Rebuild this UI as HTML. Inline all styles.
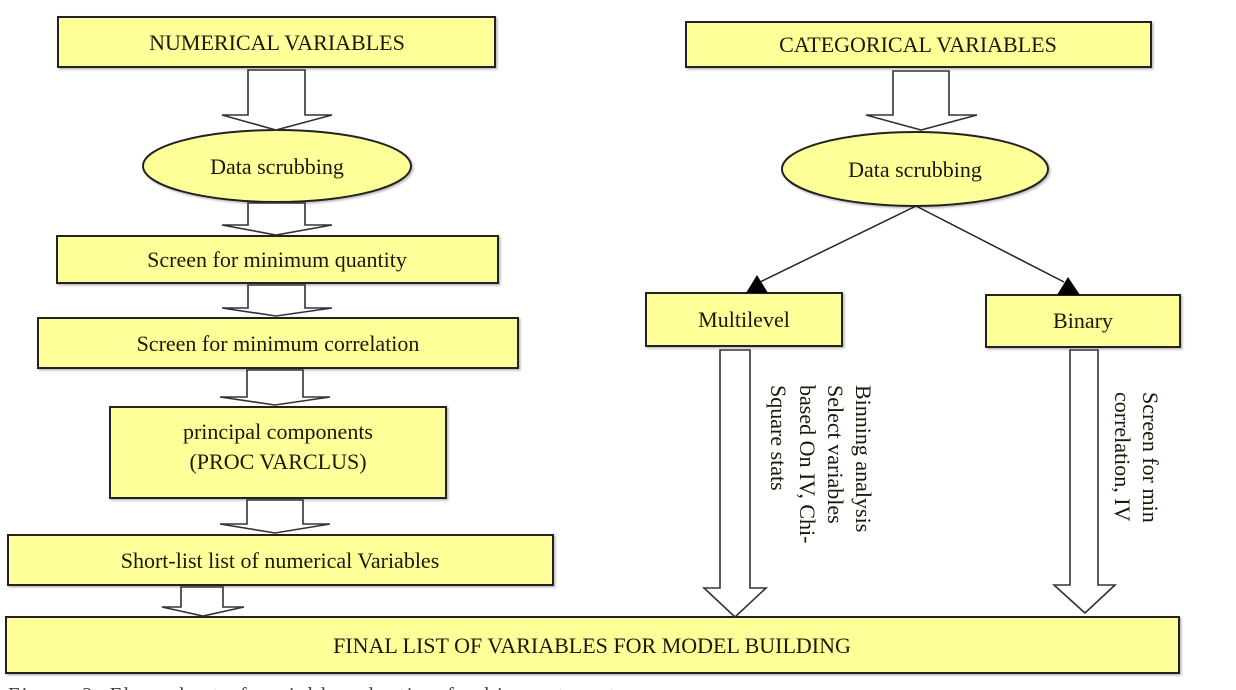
<!DOCTYPE html>
<html><head><meta charset="utf-8"><style>
html,body{margin:0;padding:0;background:#fff;overflow:hidden;}
svg{display:block;}
text{font-family:"Liberation Serif",serif;fill:#1a1a0a;}
</style></head><body>
<svg width="1236" height="690" viewBox="0 0 1236 690" xmlns="http://www.w3.org/2000/svg">
<defs>
<filter id="sh" x="-5%" y="-5%" width="110%" height="120%"><feDropShadow dx="1.5" dy="1.5" stdDeviation="1" flood-color="#888" flood-opacity="0.6"/></filter>
</defs>
<g fill="#ffff99" stroke="#222" stroke-width="2" filter="url(#sh)">
<rect x="58" y="17" width="437" height="50"/>
<ellipse cx="277" cy="166" rx="134" ry="36"/>
<rect x="57" y="236" width="441" height="47"/>
<rect x="38" y="318" width="480" height="50"/>
<rect x="110" y="407" width="336" height="91"/>
<rect x="8" y="535" width="545" height="50"/>
<rect x="6" y="617" width="1173" height="56"/>
<rect x="686" y="22" width="465" height="45"/>
<ellipse cx="915" cy="169" rx="133" ry="37"/>
<rect x="646" y="293" width="196" height="53"/>
<rect x="986" y="295" width="194" height="52"/>
</g>
<g fill="#fff" stroke="#333" stroke-width="1.6" stroke-linejoin="miter">
<polygon points="248,70 305,70 305,115 332,115 276,130 222,115 248,115"/>
<polygon points="248,203 305,203 305,225 332,225 276,235 222,225 248,225"/>
<polygon points="248,285 305,285 305,308 332,308 276,316 222,308 248,308"/>
<polygon points="247,370 303,370 303,397 330,397 275,405 220,397 247,397"/>
<polygon points="247,500 303,500 303,524 330,524 275,533 220,524 247,524"/>
<polygon points="181,587 223,587 223,607 244,607 203,616 162,607 181,607"/>
<polygon points="893,71 949,71 949,115 977,115 921,130 866,115 893,115"/>
<polygon points="720,350 750,350 750,588 766,588 735,617 704,588 720,588"/>
<polygon points="1070,350 1098,350 1098,585 1115,585 1085,613 1054,585 1070,585"/>
</g>
<g stroke="#222" stroke-width="1.5">
<line x1="916" y1="206" x2="760" y2="282"/>
<line x1="916" y1="206" x2="1064" y2="282"/>
</g>
<polygon points="757,275 746,293 768,293" fill="#000"/>
<polygon points="1068,277 1057,295 1080,295" fill="#000"/>
<g font-size="22" text-anchor="middle">
<text x="277" y="50">NUMERICAL VARIABLES</text>
<text x="277" y="174">Data scrubbing</text>
<text x="277" y="267">Screen for minimum quantity</text>
<text x="278" y="351">Screen for minimum correlation</text>
<text x="278" y="439">principal components</text>
<text x="278" y="469">(PROC VARCLUS)</text>
<text x="280" y="568">Short-list list of numerical Variables</text>
<text x="592" y="653">FINAL LIST OF VARIABLES FOR MODEL BUILDING</text>
<text x="918" y="52">CATEGORICAL VARIABLES</text>
<text x="915" y="177">Data scrubbing</text>
<text x="744" y="327">Multilevel</text>
<text x="1083" y="328">Binary</text>
</g>
<g font-size="22">
<text transform="translate(856,385) rotate(90)">Binning analysis</text>
<text transform="translate(828,385) rotate(90)">Select variables</text>
<text transform="translate(800,385) rotate(90)">based On IV, Chi-</text>
<text transform="translate(771,385) rotate(90)">Square stats</text>
<text transform="translate(1143,392) rotate(90)">Screen for min</text>
<text transform="translate(1115,392) rotate(90)">correlation, IV</text>
</g>
<text x="8" y="702" font-size="21" style="fill:#444;letter-spacing:2px">Figure 2: Flow chart of variable selection for binary target</text>
</svg>
</body></html>
